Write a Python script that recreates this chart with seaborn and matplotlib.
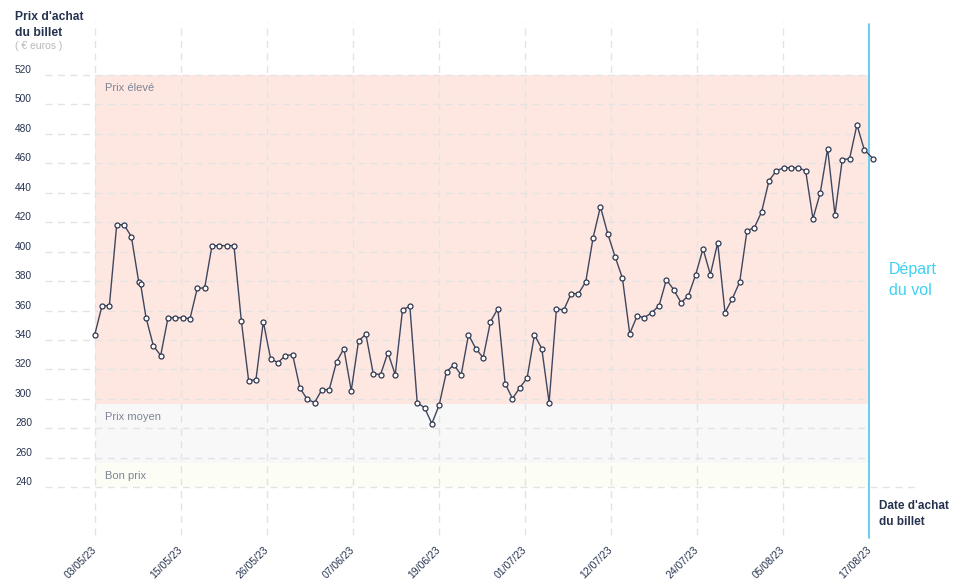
import numpy as np
import pandas as pd
import matplotlib
matplotlib.use("Agg")
import matplotlib.pyplot as plt
import matplotlib.transforms as mtrans
import seaborn as sns

# ---- data ----
days = [0, 1, 2, 3, 4, 5, 6, 6.25, 7, 8, 9, 10, 11, 12, 13, 14, 15, 16, 17, 18, 19,
        20, 21, 22, 23, 24, 25, 26, 27, 28, 29, 30, 31, 32, 33, 34, 35, 36, 37, 38, 39,
        40, 41, 42, 43, 44, 45, 46, 47, 48, 49, 50, 51, 52, 53, 54, 55, 56, 57, 58, 59,
        60, 61, 62, 63, 64, 65, 66, 67, 68, 69, 70, 71, 72, 73, 74, 75, 76, 77, 78, 79,
        80, 81, 82, 83, 84, 85, 86, 87, 88, 89, 90, 91, 92, 93, 94, 95, 96, 97, 98, 99,
        100, 101, 102, 103, 104, 105, 106.2]
prices = [343.6, 363.3, 363.3, 418.3, 418.3, 410.2, 379.6, 378.3, 355.2, 336.2, 329.4,
          355.2, 355.2, 355.2, 354.5, 375.3, 375.3, 404.1, 404.1, 404.1, 404.1,
          353.2, 312.4, 313.1, 352.5, 327.3, 324.6, 329.4, 330.1, 307.4, 299.7,
          297.5, 306.3, 306.3, 325.3, 334.1, 305.6, 339.4, 343.9, 317.2, 316.5,
          331.4, 316.5, 360.6, 362.9, 297.5, 294.0, 283.2, 295.9, 318.5, 323.1,
          316.3, 343.6, 334.1, 328.0, 352.5, 361.3, 310.4, 300.2, 307.6, 314.2,
          343.6, 334.1, 297.5, 361.3, 360.4, 371.5, 371.5, 379.6, 409.5, 430.6,
          412.2, 396.6, 382.1, 344.3, 356.3, 355.2, 358.6, 363.3, 381.0, 374.2,
          365.4, 370.1, 384.4, 402.0, 384.4, 406.1, 358.6, 368.1, 379.4, 414.3,
          416.3, 427.2, 448.2, 455.0, 457.0, 457.0, 457.0, 455.0, 422.4, 440.1,
          470.0, 425.1, 462.5, 463.2, 486.2, 469.3, 463.2]
tick_labels = ["03/05/23", "15/05/23", "26/05/23", "07/06/23", "19/06/23",
               "01/07/23", "12/07/23", "24/07/23", "05/08/23", "17/08/23"]
y_ticks = [240, 260, 280, 300, 320, 340, 360, 380, 400, 420, 440, 460, 480, 500, 520]
bands = [("Prix élevé", 296.5, 520), ("Prix moyen", 256.5, 296.5), ("Bon prix", 240, 256.5)]
band_colors = ["#fee7e1", "#f8f8f8", "#fcfdf4"]
x_end = 105.7

df = pd.DataFrame({"day": days, "price": prices})

sns.set_theme(style="white")
plt.rcParams["font.family"] = ["Liberation Sans", "DejaVu Sans"]

fig = plt.figure(figsize=(9.58, 5.85), dpi=100)
ax = fig.add_axes([0.047, 0.0821, 0.9133, 0.8837])
ax.set_xlim(-6.78, 112.6)
ax.set_ylim(206.2, 557.4)
for s in ax.spines.values():
    s.set_visible(False)

ink = "#26334f"
gridc = "#e3e3e3"

# bands
for (name, lo, hi), c in zip(bands, band_colors):
    ax.fill_between([0, x_end], lo, hi, color=c, lw=0, zorder=0)
    ax.text(1.4, hi - 5.5, name, fontsize=8, color="#7d8494", va="top", ha="left", zorder=1)

# grid
xt = np.linspace(0, x_end, len(tick_labels))
for v in y_ticks:
    xr = 112.6 if v == y_ticks[0] else x_end
    ax.plot([-6.78, xr], [v, v], color=gridc, lw=1, ls=(0, (5, 4)), zorder=0.5)
for x in xt[:-1]:
    ax.plot([x, x], [207.5, 556], color=gridc, lw=1, ls=(0, (5, 4)), zorder=0.5)
ax.plot([x_end, x_end], [205.5, 555], color="#4cc6ea", lw=1.2, zorder=3, clip_on=False)

# line
sns.lineplot(data=df, x="day", y="price", ax=ax, color="#3f475e", lw=1.0,
             marker="o", markersize=3.6, markerfacecolor="white",
             markeredgecolor="#2e3750", markeredgewidth=0.9, zorder=4, clip_on=False)
ax.set_xlabel("")
ax.set_ylabel("")

# ticks
ax.set_yticks([])
ax.set_xticks(xt)
ax.set_xticklabels(tick_labels, rotation=45, ha="right", va="center",
                   rotation_mode="anchor", fontsize=7.5, color=ink)
ax.tick_params(axis="x", length=0, pad=8)

tr = mtrans.offset_copy(mtrans.blended_transform_factory(fig.transFigure, ax.transData),
                        fig=fig, x=0, y=3.6, units="points")
for v in y_ticks:
    ax.text(15 / 958, v, str(v), transform=tr, fontsize=7.3, color=ink,
            ha="left", va="center")

# titles
fig.text(15 / 958, 1 - 11 / 585, "Prix d'achat\ndu billet", fontsize=8.7, fontweight="bold",
         color=ink, ha="left", va="top", linespacing=1.45)
fig.text(15 / 958, 1 - 41 / 585, "( € euros )", fontsize=7.5, color="#b8b8b8",
         ha="left", va="top")
fig.text(889 / 958, 1 - 262 / 585, "Départ\ndu vol", fontsize=11.5, color="#3fd0f2",
         ha="left", va="top", linespacing=1.5)
fig.text(879 / 958, 1 - 500 / 585, "Date d'achat\ndu billet", fontsize=8.5, fontweight="bold",
         color=ink, ha="left", va="top", linespacing=1.4)

fig.savefig("out.png", dpi=100, facecolor="white")
